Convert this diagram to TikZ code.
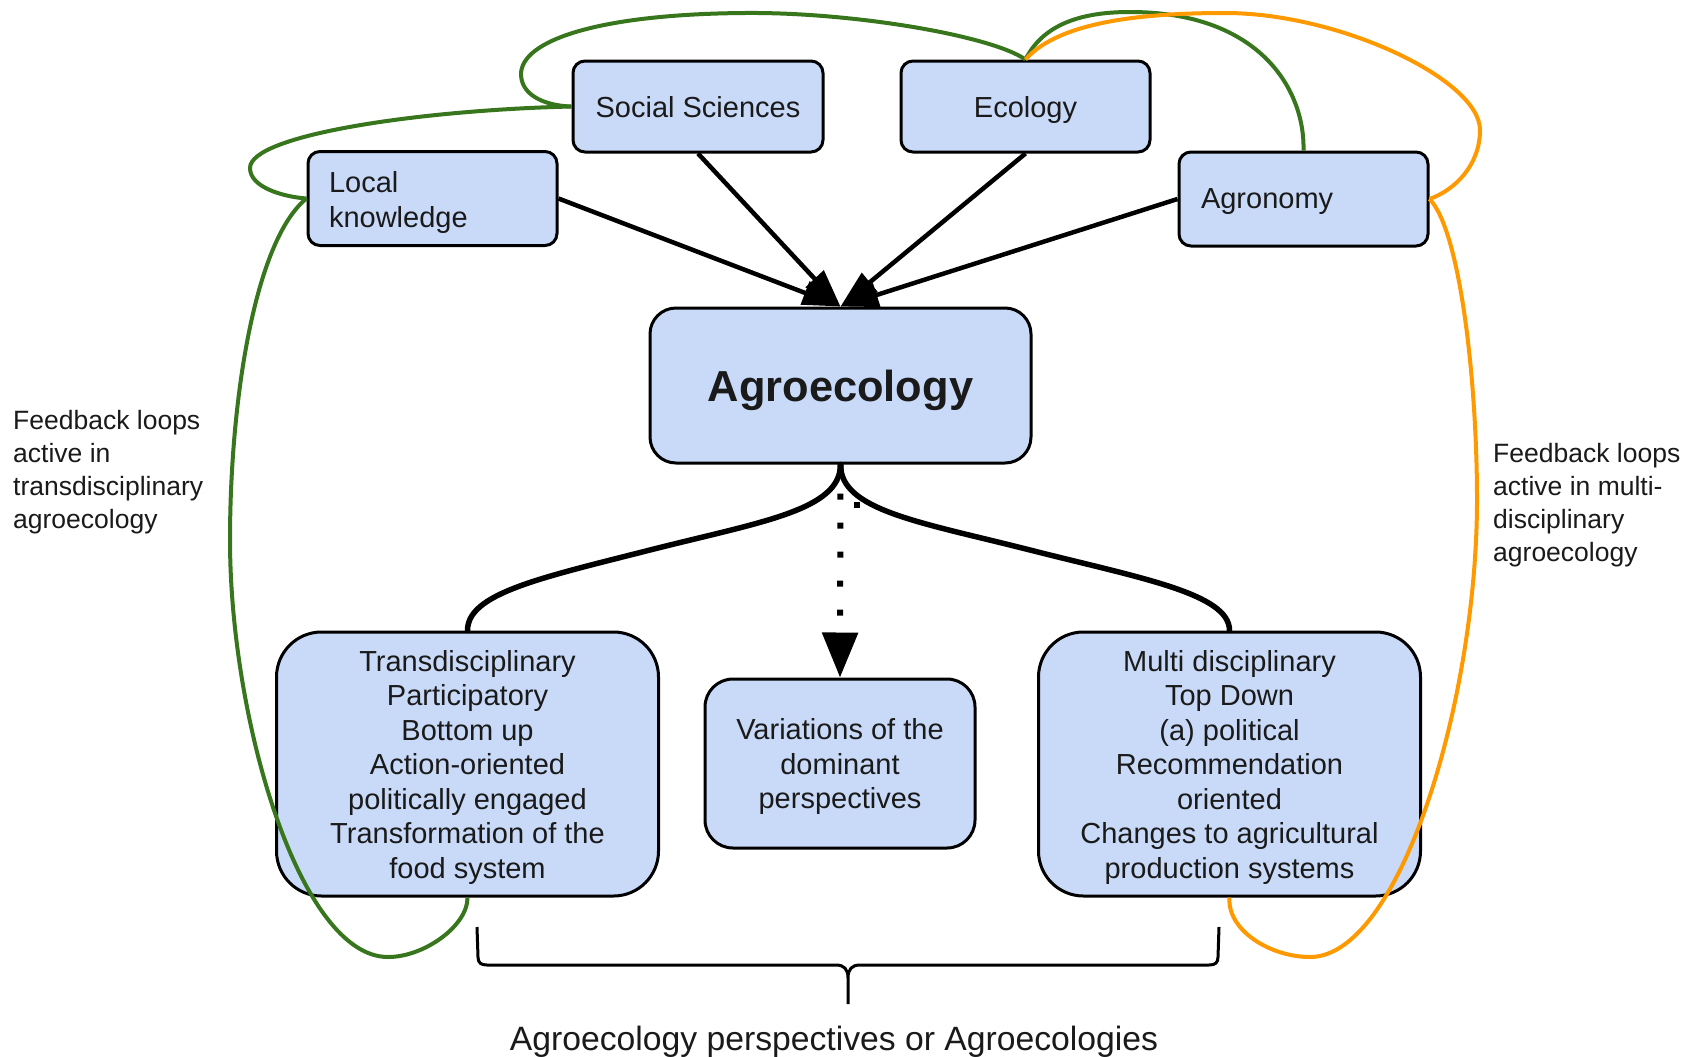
\documentclass[tikz,border=0pt]{standalone}
\usepackage{fontspec}
\setmainfont{Liberation Sans}
\usetikzlibrary{arrows.meta}
\definecolor{boxblue}{HTML}{C9DAF8}
\definecolor{loopgreen}{HTML}{38761D}
\definecolor{looporange}{HTML}{FF9900}
\definecolor{txt}{HTML}{1A1A1A}
\begin{document}
\begin{tikzpicture}[x=1bp,y=-1bp,
  box/.style={draw=black, line width=3bp, fill=boxblue, text=txt, align=center, inner sep=0pt,
    text depth=0pt, font=\fontsize{29bp}{34.5bp}\selectfont},
  smallbox/.style={box, rounded corners=12bp},
  bigbox/.style={box, rounded corners=45bp, minimum width=382bp, minimum height=264bp},
  arr/.style={line width=4.5bp, -{Triangle[length=38bp,width=24bp]}},
  branch/.style={line width=5.5bp, line cap=round},
  greenloop/.style={draw=loopgreen, line width=4bp},
  orangeloop/.style={draw=looporange, line width=4bp},
  sidetext/.style={anchor=north west, align=left, inner sep=0pt, text=txt,
    font=\fontsize{26.5bp}{33bp}\selectfont}]
\fill[white] (0,0) rectangle (1684,1056);
\useasboundingbox (0,0) rectangle (1684,1056);

% nodes
\node[smallbox, minimum width=249bp, minimum height=94bp, align=left, text width=207bp, text depth=32.5bp] (lk) at (432.5,198.5) {Local\\knowledge};
\node[smallbox, minimum width=250bp, minimum height=91bp] (ss) at (698,106.5) {Social Sciences};
\node[smallbox, minimum width=249bp, minimum height=91bp] (eco) at (1025.5,106.5) {Ecology};
\node[smallbox, minimum width=249bp, minimum height=94bp, align=left, text width=205bp] (agron) at (1303.5,199) {Agronomy};
\node[box, rounded corners=26bp, minimum width=381bp, minimum height=155bp,
      font=\fontsize{43.4bp}{50bp}\selectfont\bfseries] (agro) at (840.5,385.5) {Agroecology};
\node[bigbox] (trans) at (467.5,764) {Transdisciplinary\\Participatory\\Bottom up\\Action-oriented\\politically engaged\\Transformation of the\\food system};
\node[box, rounded corners=28bp, minimum width=270bp, minimum height=169bp] (var) at (840,763.5) {Variations of the\\dominant\\perspectives};
\node[bigbox] (multi) at (1229.5,764) {Multi disciplinary\\Top Down\\(a) political\\Recommendation\\oriented\\Changes to agricultural\\production systems};

\node[sidetext] (fbl) at (13,410) {Feedback loops\\active in\\transdisciplinary\\agroecology};
\node[sidetext] (fbr) at (1493,443) {Feedback loops\\active in multi-\\disciplinary\\agroecology};
\node[anchor=base, inner sep=0pt, text=txt, font=\fontsize{33.7bp}{40bp}\selectfont] (persp) at (834,1050) {Agroecology perspectives or Agroecologies};

% arrows into Agroecology
\draw[arr] (lk.east) -- (agro.north);
\draw[arr] (ss.south) -- (agro.north);
\draw[arr] (eco.south) -- (agro.north);
\draw[arr] (agron.west) -- (agro.north);

% branches
\draw[branch] (agro.south) .. controls +(0,46) and +(110,-28) .. (650,550)
  .. controls +(-110,28) and +(0,-37) .. (trans.north);
\draw[branch] (agro.south) .. controls +(0,46) and +(-110,-28) .. (1030,550)
  .. controls +(110,28) and +(0,-37) .. (multi.north);
\draw[line width=6bp, dash pattern=on 6bp off 23bp, -{Triangle[length=45bp,width=35bp]}] (agro.south) -- (var.north);
\fill (854,502) rectangle (860,508);

% green feedback loops
\draw[greenloop] (eco.north) .. controls (990,35) and (850,12) .. (745,13)
  .. controls (600,14) and (520,40) .. (521,75)
  .. controls (522,98) and (550,106) .. (ss.west);
\draw[greenloop] (ss.west) .. controls (420,110) and (250,135) .. (250,168)
  .. controls (250,188) and (285,197) .. (lk.west);
\draw[greenloop] (lk.west) .. controls (255,240) and (230,400) .. (230,540)
  .. controls (230,720) and (300,957) .. (388,957)
  .. controls (425,957) and (468,925) .. (trans.south);
\draw[greenloop] (eco.north) .. controls (1045,20) and (1090,12) .. (1130,12)
  .. controls (1260,12) and (1305,90) .. (agron.north);

% orange feedback loops
\draw[orangeloop] (eco.north) .. controls (1060,20) and (1150,13) .. (1225,13)
  .. controls (1340,13) and (1480,80) .. (1480,130)
  .. controls (1480,165) and (1455,190) .. (agron.east);
\draw[orangeloop] (agron.east) .. controls (1460,230) and (1477,380) .. (1477,500)
  .. controls (1477,700) and (1400,957) .. (1310,957)
  .. controls (1270,957) and (1227,930) .. (multi.south);

% brace
\draw[line width=3bp, line join=round] (477,927) -- (478,957) .. controls (478,963) and (481,965) .. (487,965)
  -- (836,965) .. controls (844,965) and (848,969) .. (848,978) -- (848,1004)
  (848,978) .. controls (848,969) and (852,965) .. (860,965)
  -- (1209,965) .. controls (1215,965) and (1218,963) .. (1218,957) -- (1219,927);
\end{tikzpicture}
\end{document}
